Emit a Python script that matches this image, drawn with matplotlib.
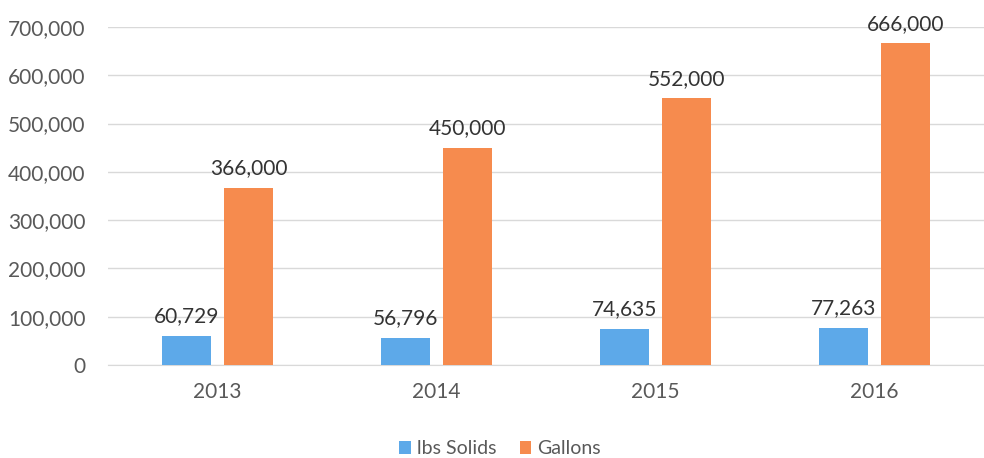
import matplotlib.pyplot as plt
import numpy as np

# chart data
years = ['2013', '2014', '2015', '2016']
lbs_solids = [60729, 56796, 74635, 77263]
gallons = [366000, 450000, 552000, 666000]

plt.rcParams['font.family'] = ['Lato', 'DejaVu Sans']
text_col = '#595959'
blue = '#5DA9E9'
orange = '#F68B4E'

fig = plt.figure(figsize=(9.84, 4.58), dpi=100)
ax = fig.add_axes([108/984, 93/458, 876/984, 338/458])

x = np.arange(len(years))
w = 0.223
off = 0.143
b1 = ax.bar(x - off, lbs_solids, w, color=blue, label='lbs Solids', zorder=3)
b2 = ax.bar(x + off, gallons, w, color=orange, label='Gallons', zorder=3)

for bars, vals in [(b1, lbs_solids), (b2, gallons)]:
    for r, v in zip(bars, vals):
        ax.annotate(f'{v:,}', (r.get_x() + r.get_width()/2, v), xytext=(0, 7),
                    textcoords='offset points', ha='center', va='bottom',
                    fontsize=15, color='#333333', annotation_clip=False)

ax.set_xlim(-0.5, 3.5)
ax.set_ylim(0, 700000)
ax.set_yticks(range(0, 700001, 100000))
ax.set_yticklabels([f'{v:,}' for v in range(0, 700001, 100000)])
ax.set_xticks(x)
ax.set_xticklabels(years)
ax.tick_params(axis='both', length=0, labelsize=15, colors=text_col)
ax.tick_params(axis='y', pad=16)
ax.tick_params(axis='x', pad=12)
ax.grid(axis='y', color='#d9d9d9', linewidth=1, zorder=0)
for s in ['top', 'right', 'left']:
    ax.spines[s].set_visible(False)
ax.spines['bottom'].set_color('#d9d9d9')

ax.legend(loc='center', bbox_to_anchor=(392/876, -0.248), ncol=2, frameon=False,
          fontsize=14, labelcolor=text_col, handlelength=0.6, handleheight=0.6,
          handletextpad=0.3, columnspacing=1.2)

plt.savefig('out.png', dpi=100)
